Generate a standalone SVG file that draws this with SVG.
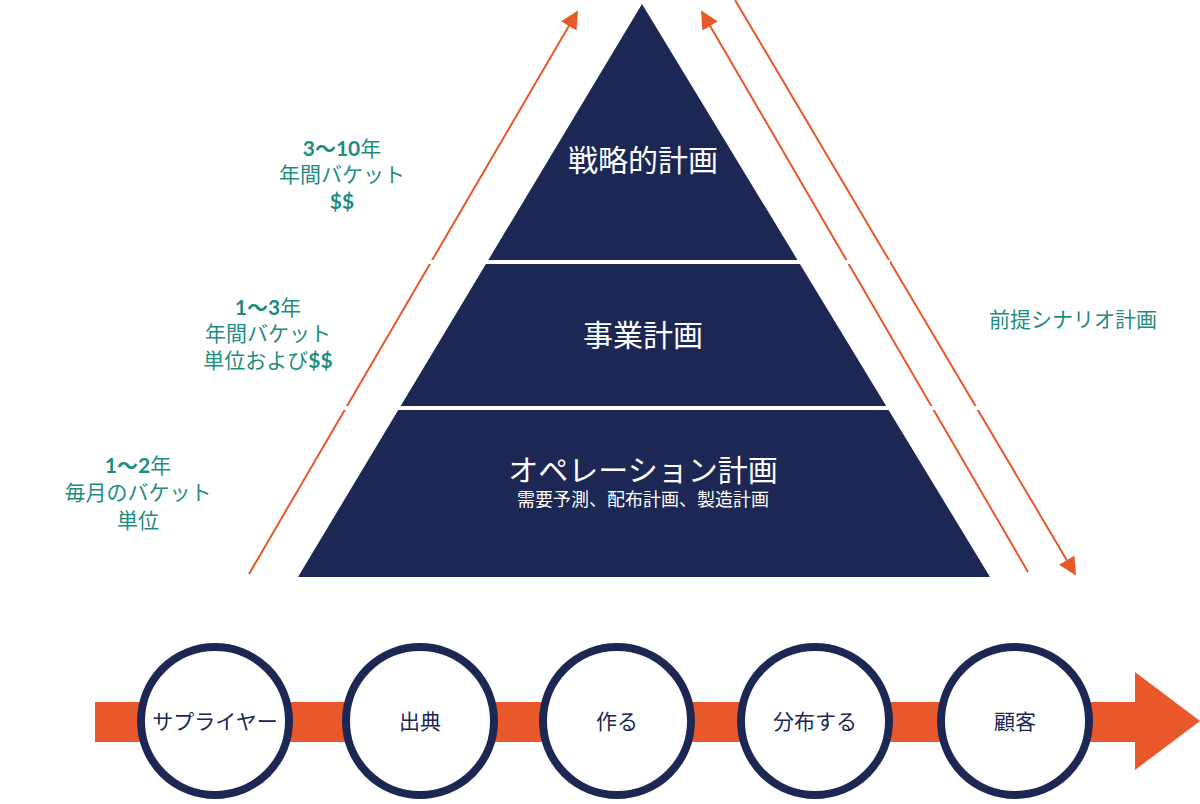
<svg xmlns="http://www.w3.org/2000/svg" width="1200" height="804" viewBox="0 0 1200 804">
<defs>
<style>
.t{font-family:"Lato","Noto Sans CJK JP",sans-serif;}
.w{fill:#fff;font-size:30px;text-anchor:middle}
.g{fill:#1f8c80;font-size:21px;text-anchor:middle}
.b{font-weight:bold}
.c{fill:#fff;stroke:#1c2754;stroke-width:8}
.cl{fill:#1c2754;font-size:21px;text-anchor:middle}
.ln{stroke:#e8582a;stroke-width:2;fill:none}
</style>
<marker id="ah" viewBox="0 0 10 10" refX="9" refY="5" markerWidth="8" markerHeight="8" markerUnits="userSpaceOnUse" orient="auto"><path d="M0,0L10,5L0,10z" fill="#e8582a"/></marker>
<marker id="ah2" viewBox="0 0 10 10" refX="9" refY="5" markerWidth="18" markerHeight="18" markerUnits="userSpaceOnUse" orient="auto"><path d="M0,0L10,5L0,10z" fill="#e8582a"/></marker>
</defs>
<g id="connectors">
<line class="ln" x1="249" y1="574" x2="577" y2="12" marker-end="url(#ah2)"/>
<line class="ln" x1="1028" y1="572" x2="702" y2="12" marker-end="url(#ah2)"/>
<line class="ln" x1="735" y1="0" x2="1075" y2="574" marker-end="url(#ah2)"/>
</g>
<g id="pyramid">
<polygon points="642,4 990,577 298,577" fill="#1c2754"/>
<line x1="400" y1="262" x2="890" y2="262" stroke="#fff" stroke-width="4"/>
<line x1="300" y1="408" x2="990" y2="408" stroke="#fff" stroke-width="4"/>
</g>
<g id="strategic"><text class="t w" x="643" y="171">戦略的計画</text></g>
<g id="business"><text class="t w" x="643" y="346">事業計画</text></g>
<g id="operations"><text class="t w" x="643" y="481">オペレーション計画</text><text class="t" x="643" y="506" fill="#fff" font-size="18" text-anchor="middle">需要予測、配布計画、製造計画</text></g>
<g id="label1"><text class="t g" x="342" y="156"><tspan class="b">3〜10</tspan>年</text><text class="t g" x="342" y="182">年間バケット</text><text class="t g b" x="342" y="209">$$</text></g>
<g id="label2"><text class="t g" x="268" y="315"><tspan class="b">1〜3</tspan>年</text><text class="t g" x="268" y="341">年間バケット</text><text class="t g" x="268" y="368">単位および<tspan class="b">$$</tspan></text></g>
<g id="label3"><text class="t g" x="138" y="473"><tspan class="b">1〜2</tspan>年</text><text class="t g" x="138" y="500">毎月のバケット</text><text class="t g" x="138" y="528">単位</text></g>
<g id="scenario"><text class="t g" x="1073" y="327">前提シナリオ計画</text></g>
<g id="flow">
<polygon points="95,702 1135,702 1135,672 1200,721 1135,770 1135,742 95,742" fill="#e8582a"/>
</g>
<g id="supplier"><circle class="c" cx="215" cy="721" r="74"/><text class="t cl" x="215" y="729">サプライヤー</text></g>
<g id="source"><circle class="c" cx="420" cy="721" r="74"/><text class="t cl" x="420" y="729">出典</text></g>
<g id="make"><circle class="c" cx="617" cy="721" r="74"/><text class="t cl" x="617" y="729">作る</text></g>
<g id="distribute"><circle class="c" cx="815" cy="721" r="74"/><text class="t cl" x="815" y="729">分布する</text></g>
<g id="customer"><circle class="c" cx="1015" cy="721" r="74"/><text class="t cl" x="1015" y="729">顧客</text></g>
</svg>
